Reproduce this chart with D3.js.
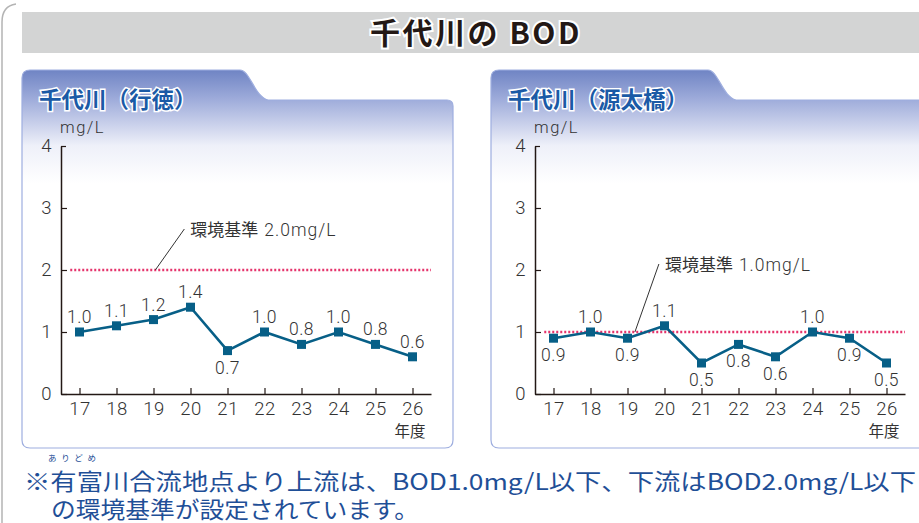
<!DOCTYPE html>
<html>
<head>
<meta charset="utf-8">
<script src="https://cdn.jsdelivr.net/npm/d3@7"></script>
<style>
body { margin:0; background:#fff; }
svg { display:block; font-family:"Roboto", "Noto Sans CJK JP", sans-serif; }
</style>
</head>
<body>
<svg id="chart"></svg>
<script>
var years = [17,18,19,20,21,22,23,24,25,26]

// 千代川（行徳）
var gyotoku = [1.0,1.1,1.2,1.4,0.7,1.0,0.8,1.0,0.8,0.6]
var gyotokuPos = ["up","up","up","up","down","up","up","up","up","up"]

// 千代川（源太橋）
var gentabashi = [0.9,1.0,0.9,1.1,0.5,0.8,0.6,1.0,0.9,0.5]
var gentaPos = ["down","up","down","up","down","down","down","up","down","down"]

var yTicks = [0,1,2,3,4]

var screen = {width:919, height:523}
var cjk = "'Noto Sans CJK JP', sans-serif"
var num = "Roboto, 'Liberation Sans', sans-serif"

var svg = d3.select("#chart")
    .attr("width",screen.width)
    .attr("height",screen.height)

var defs = svg.append("defs")
var grad = defs.append("linearGradient")
    .attr("id","tabGrad")
    .attr("x1",0).attr("y1",0).attr("x2",0).attr("y2",1)
grad.append("stop").attr("offset","0").attr("stop-color","#6f84c4")
grad.append("stop").attr("offset","0.08").attr("stop-color","#a0addb")
grad.append("stop").attr("offset","0.2").attr("stop-color","#eef0f9")
grad.append("stop").attr("offset","0.3").attr("stop-color","#ffffff")

//outer frame on the left
svg.append("path")
    .attr("d","M2,523 V22 Q2,6 16,4")
    .attr("fill","none")
    .attr("stroke","#b4b4b4")
    .attr("stroke-width",1.5)

//title bar
svg.append("rect")
    .attr("x",22).attr("y",12)
    .attr("width",900).attr("height",41)
    .attr("fill","#d3d4d4")

svg.append("text")
    .attr("x",476).attr("y",44)
    .attr("text-anchor","middle")
    .attr("font-family",cjk)
    .attr("font-size",30)
    .attr("font-weight",700)
    .attr("fill","#231815")
    .attr("stroke","#fff")
    .attr("stroke-width",4)
    .attr("paint-order","stroke")
    .attr("letter-spacing",2.5)
    .text("千代川の BOD")

var drawPanel = function(opts)
{
    var left = opts.left, right = opts.right
    var tabEnd = opts.tabEnd
    var top = 70, bottom = 448, mid = 100

    var g = svg.append("g")

    var p = "M"+left+","+(bottom-8)
        +" V"+(top+8)
        +" Q"+left+","+top+" "+(left+8)+","+top
        +" H"+tabEnd
        +" C"+(tabEnd+10)+","+top+" "+(tabEnd+14)+","+(mid-4)+" "+(tabEnd+28)+","+mid
        +" H"+(right-6)
        +" Q"+right+","+mid+" "+right+","+(mid+6)
        +" V"+(bottom-8)
        +" Q"+right+","+bottom+" "+(right-8)+","+bottom
        +" H"+(left+8)
        +" Q"+left+","+bottom+" "+left+","+(bottom-8)+" Z"

    g.append("path")
        .attr("d",p)
        .attr("fill","url(#tabGrad)")
        .attr("stroke","#9eaedf")
        .attr("stroke-width",1.2)

    g.append("text")
        .attr("x",left+17).attr("y",108)
        .attr("font-family",cjk)
        .attr("font-size",22.5)
        .attr("font-weight",700)
        .attr("fill","#1a5aa6")
        .attr("stroke","#fff")
        .attr("stroke-width",3)
        .attr("paint-order","stroke")
        .text(opts.title)

    var x0 = opts.axisX
    var xScale = d3.scaleLinear()
        .domain([16.5,26.5])
        .range([x0, x0+370])

    var yScale = d3.scaleLinear()
        .domain([0,4])
        .range([394,146])

    //axes
    var yAxis = d3.axisLeft(yScale)
        .tickValues(yTicks)
        .tickFormat(d3.format("d"))
        .tickSizeInner(-6)
        .tickSizeOuter(0)
        .tickPadding(9)

    var xAxis = d3.axisBottom(xScale)
        .tickValues(years)
        .tickFormat(d3.format("d"))
        .tickSizeInner(-6)
        .tickSizeOuter(0)
        .tickPadding(8)

    var ya = g.append("g")
        .attr("transform","translate("+x0+",0)")
        .call(yAxis)
    var xa = g.append("g")
        .attr("transform","translate(0,394)")
        .call(xAxis)

    ;[ya,xa].forEach(function(a)
    {
        a.select(".domain").attr("stroke","#231815").attr("stroke-width",1.5)
        a.selectAll(".tick line").attr("stroke","#231815").attr("stroke-width",1.2)
        a.selectAll(".tick text")
            .attr("fill","#333")
            .attr("font-size",18.5)
            .attr("font-weight",300)
            .attr("letter-spacing",0.5)
            .attr("font-family",num)
    })
    ya.select(".tick:last-of-type line").attr("x2",5)

    g.append("text")
        .attr("x",x0-1).attr("y",133)
        .attr("font-family",num)
        .attr("font-weight",300)
        .attr("font-size",16.5)
        .attr("letter-spacing",1.5)
        .attr("fill","#333")
        .text("mg/L")

    g.append("text")
        .attr("x",xScale(26)+13).attr("y",437)
        .attr("text-anchor","end")
        .attr("font-family",cjk)
        .attr("font-size",15.5)
        .attr("fill","#333")
        .text("年度")

    //standard line
    g.append("line")
        .attr("x1",xScale(16.75)).attr("x2",xScale(26.5))
        .attr("y1",yScale(opts.standard)).attr("y2",yScale(opts.standard))
        .attr("stroke","#e5336b")
        .attr("stroke-width",2.6)
        .attr("stroke-dasharray","2,2")

    var lx = xScale(opts.leaderAt)
    var ly = yScale(opts.standard)
    g.append("line")
        .attr("x1",lx).attr("y1",ly)
        .attr("x2",lx+opts.leaderDx).attr("y2",ly-opts.leaderDy)
        .attr("stroke","#333")
        .attr("stroke-width",1)

    var st = g.append("text")
        .attr("x",lx+opts.leaderDx+6).attr("y",ly-opts.leaderDy+7)
        .attr("font-size",17)
        .attr("fill","#333")
    st.append("tspan")
        .attr("font-family",cjk)
        .text("環境基準")
    st.append("tspan")
        .attr("dx",6)
        .attr("font-family",num)
        .attr("font-weight",300)
        .attr("font-size",17.5)
        .attr("letter-spacing",1)
        .text(opts.standard.toFixed(1)+"mg/L")

    //data line
    var line = d3.line()
        .x(function(d,i){ return xScale(years[i]) })
        .y(function(d){ return yScale(d) })

    g.append("path")
        .datum(opts.values)
        .attr("d",line)
        .attr("fill","none")
        .attr("stroke","#075f87")
        .attr("stroke-width",2.6)

    g.selectAll(".marker")
        .data(opts.values)
        .enter()
        .append("rect")
        .attr("class","marker")
        .attr("x",function(d,i){ return xScale(years[i])-4.5 })
        .attr("y",function(d){ return yScale(d)-4.5 })
        .attr("width",9).attr("height",9)
        .attr("fill","#075f87")

    g.selectAll(".vlabel")
        .data(opts.values)
        .enter()
        .append("text")
        .attr("class","vlabel")
        .attr("x",function(d,i){ return xScale(years[i]) })
        .attr("y",function(d,i)
        {
            return yScale(d) + (opts.pos[i]=="up" ? -9 : 23)
        })
        .attr("text-anchor","middle")
        .attr("font-family",num)
        .attr("font-weight",300)
        .attr("font-size",17.5)
        .attr("letter-spacing",0.5)
        .attr("fill","#333")
        .text(function(d){ return d.toFixed(1) })
}

drawPanel({left:22, right:453, tabEnd:240, axisX:61,
    title:"千代川（行徳）", values:gyotoku, pos:gyotokuPos,
    standard:2.0, leaderAt:19.05, leaderDx:29, leaderDy:41})

drawPanel({left:491, right:935, tabEnd:708, axisX:535,
    title:"千代川（源太橋）", values:gentabashi, pos:gentaPos,
    standard:1.0, leaderAt:19.2, leaderDx:24, leaderDy:68})

//footnote
svg.append("text")
    .attr("x",48).attr("y",461)
    .attr("font-family",cjk)
    .attr("font-size",8.5)
    .attr("fill","#1f4f97")
    .attr("textLength",48)
    .text("ありどめ")

svg.append("text")
    .attr("x",24).attr("y",490)
    .attr("font-family",cjk)
    .attr("font-size",22.5)
    .attr("fill","#1f4f97")
    .attr("textLength",892)
    .attr("lengthAdjust","spacingAndGlyphs")
    .text("※有富川合流地点より上流は、BOD1.0mg/L以下、下流はBOD2.0mg/L以下")

svg.append("text")
    .attr("x",51).attr("y",518)
    .attr("font-family",cjk)
    .attr("font-size",22.5)
    .attr("fill","#1f4f97")
    .attr("textLength",368)
    .attr("lengthAdjust","spacingAndGlyphs")
    .text("の環境基準が設定されています。")
</script>
</body>
</html>
